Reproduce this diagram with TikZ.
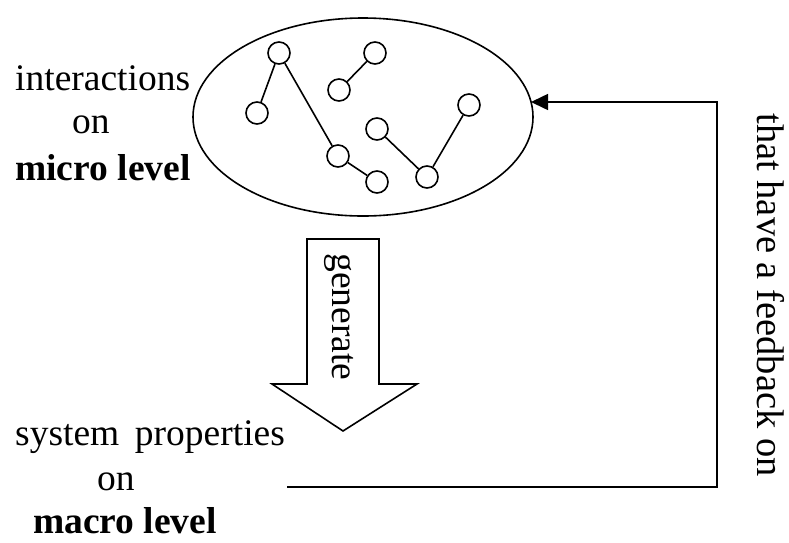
\documentclass[tikz,border=0pt]{standalone}
\usepackage{fontspec}
\setmainfont{Liberation Serif}
\usetikzlibrary{arrows.meta,shapes.geometric}
\begin{document}
\begin{tikzpicture}[x=1pt,y=-1pt,
  lbl/.style={font=\fontsize{37.5}{45}\selectfont, inner sep=0pt, anchor=base west},
  blbl/.style={lbl, font=\fontsize{37.5}{45}\selectfont\bfseries},
  vlbl/.style={font=\fontsize{38.5}{46}\selectfont, inner sep=0pt, rotate=-90, anchor=base},
  agent/.style={circle, draw, line width=1.6pt, minimum size=22pt, inner sep=0pt},
  link/.style={line width=1.6pt},
  outline/.style={draw, line width=1.6pt}]
\useasboundingbox (0,0) rectangle (789,542);
% ellipse
\node[ellipse, outline, minimum width=340pt, minimum height=198pt, inner sep=0pt] (ell) at (363,117) {};
% agents
\node[agent] (a1) at (279,53) {};
\node[agent] (a2) at (257,113) {};
\node[agent] (a3) at (375,53) {};
\node[agent] (a4) at (339,90) {};
\node[agent] (a5) at (377,129) {};
\node[agent] (a6) at (469,105) {};
\node[agent] (a7) at (338,156) {};
\node[agent] (a8) at (377,182) {};
\node[agent] (a9) at (427,177) {};
\draw[link] (a1) -- (a2);
\draw[link] (a1) -- (a7);
\draw[link] (a7) -- (a8);
\draw[link] (a3) -- (a4);
\draw[link] (a5) -- (a9);
\draw[link] (a9) -- (a6);
% left texts
\node[lbl] (t1) at (15,90) {interactions};
\node[lbl] (t2) at (72,133) {on};
\node[blbl] (t3) at (15,180) {micro level};
\node[lbl] (b1) at (15,445) {system\, properties};
\node[lbl] (b2) at (97,490) {on};
\node[blbl] (b3) at (33,533) {macro level};
% block arrow
\draw[line width=1.6pt, line join=miter] (307,239) -- (379,239) -- (379,384) -- (417,384) -- (343,431) -- (272,384) -- (307,384) -- cycle;
\node[vlbl, font=\fontsize{37.5}{45}\selectfont] (gen) at (332,317) {generate};
% feedback
\coordinate (fbstart) at (287,487);
\coordinate (corner) at (717,487);
\coordinate (fbend) at (531,102);
\draw[line width=1.6pt, -{Triangle[length=17pt,width=16pt]}] (fbstart) -- (corner) |- (fbend);
\node[vlbl] (fb) at (757,295) {that have a feedback on};
\end{tikzpicture}
\end{document}
